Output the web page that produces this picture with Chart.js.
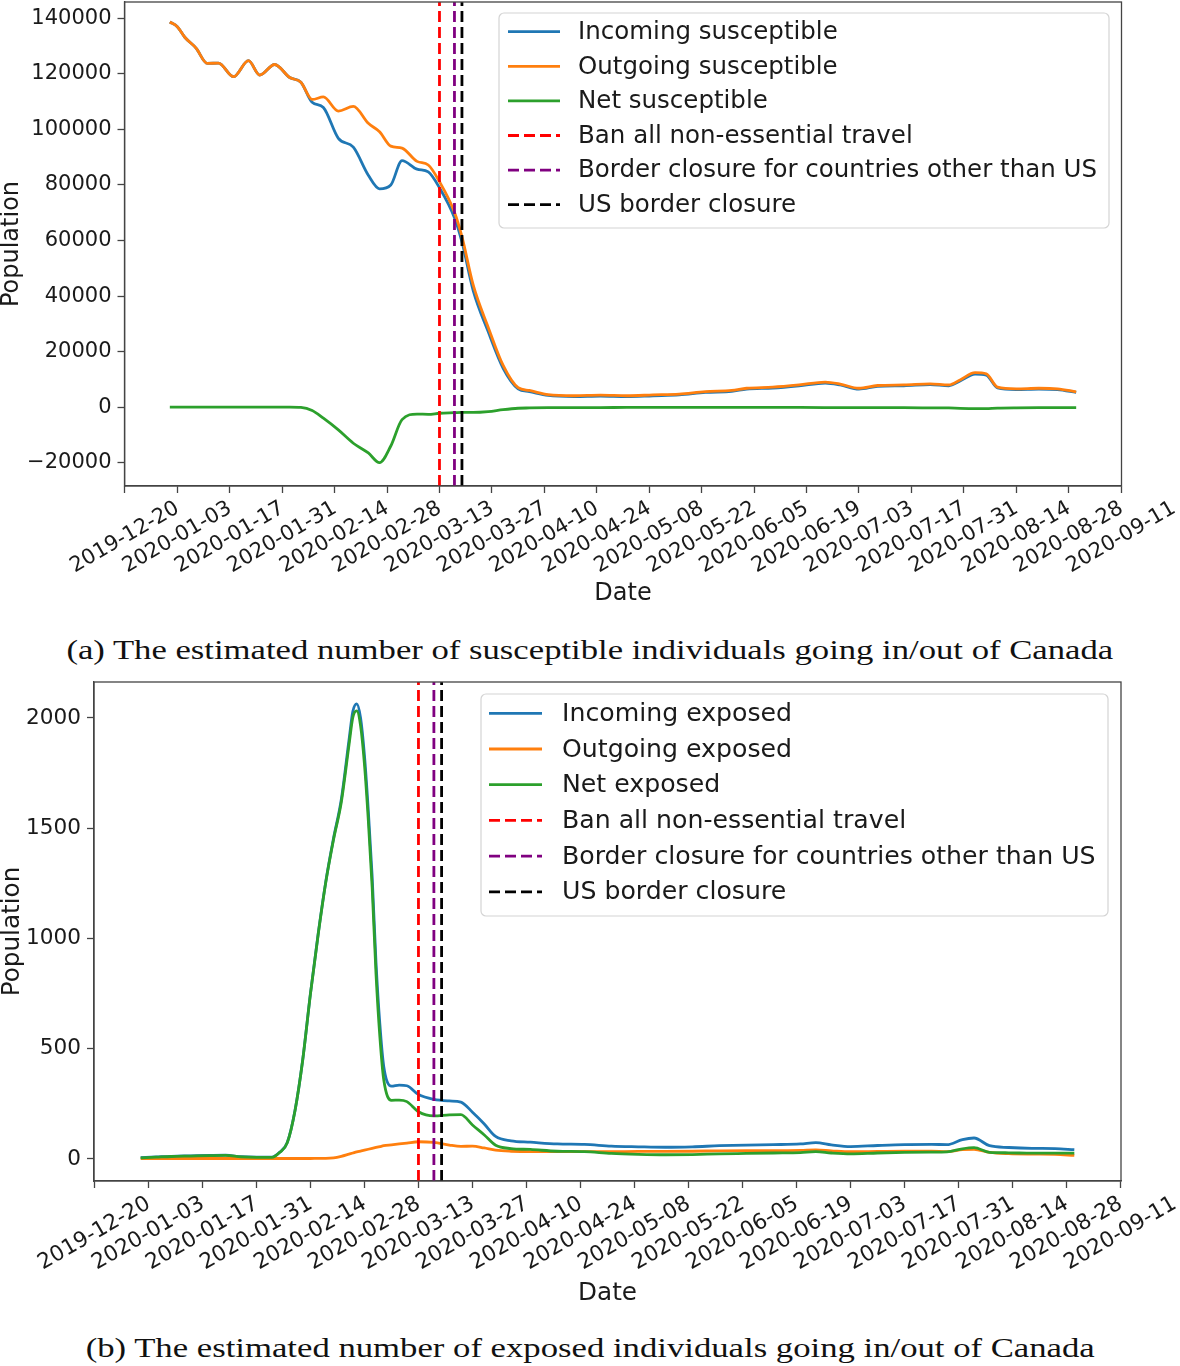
<!DOCTYPE html>
<html>
<head>
<meta charset="utf-8">
<title>Susceptible and exposed travellers, Canada</title>
<script src="https://cdn.jsdelivr.net/npm/chart.js@4.4.1/dist/chart.umd.min.js"></script>
<style>
  html, body { margin: 0; padding: 0; background: #fff; }
  body { position: relative; width: 1180px; height: 1366px; overflow: hidden; }
  canvas { position: absolute; left: 0; }
  #c1 { top: 0; }
  #c2 { top: 670px; }
  .caption { position: absolute; left: 0; width: 1180px; text-align: center; line-height: 32px; white-space: nowrap; }
  .caption span { display: inline-block; font-family: 'Liberation Serif', serif; font-size: 28px; color: #111; }
</style>
</head>
<body>
<canvas id="c1" width="1180" height="610"></canvas>
<div class="caption" style="top:634px"><span data-w="1047">(a) The estimated number of susceptible individuals going in/out of Canada</span></div>
<canvas id="c2" width="1180" height="640"></canvas>
<div class="caption" style="top:1332px"><span data-w="1009">(b) The estimated number of exposed individuals going in/out of Canada</span></div>
<script>
// ---- data ----
const xTickLabels = ['2019-12-20', '2020-01-03', '2020-01-17', '2020-01-31', '2020-02-14', '2020-02-28',
  '2020-03-13', '2020-03-27', '2020-04-10', '2020-04-24', '2020-05-08', '2020-05-22', '2020-06-05',
  '2020-06-19', '2020-07-03', '2020-07-17', '2020-07-31', '2020-08-14', '2020-08-28', '2020-09-11'];

const eventLabels = ['Ban all non-essential travel', 'Border closure for countries other than US', 'US border closure'];
const eventDates = ['2020-03-13', '2020-03-17', '2020-03-19'];

// (a) susceptible
const suscNames = ['Incoming susceptible', 'Outgoing susceptible', 'Net susceptible'];
const suscTicks = [-20000, 0, 20000, 40000, 60000, 80000, 100000, 120000, 140000];
const suscDates = ['2020-01-01', '2020-01-03', '2020-01-05', '2020-01-08', '2020-01-11', '2020-01-14',
  '2020-01-18', '2020-01-22', '2020-01-25', '2020-01-29', '2020-02-02', '2020-02-05', '2020-02-08',
  '2020-02-11', '2020-02-15', '2020-02-19', '2020-02-23', '2020-02-26', '2020-02-29', '2020-03-03',
  '2020-03-07', '2020-03-10', '2020-03-13', '2020-03-17', '2020-03-19', '2020-03-22', '2020-03-26',
  '2020-03-30', '2020-04-03', '2020-04-06', '2020-04-11', '2020-04-18', '2020-04-25', '2020-05-02',
  '2020-05-09', '2020-05-16', '2020-05-23', '2020-05-30', '2020-06-03', '2020-06-10', '2020-06-17',
  '2020-06-24', '2020-06-28', '2020-07-03', '2020-07-08', '2020-07-15', '2020-07-22', '2020-07-27',
  '2020-07-30', '2020-08-03', '2020-08-06', '2020-08-09', '2020-08-14', '2020-08-20', '2020-08-25',
  '2020-08-30'];
const incomingS = [138700, 137000, 133200, 129300, 123800, 123900, 119000, 124800, 119600, 123400,
  118700, 117000, 109800, 107900, 96800, 93600, 83500, 78600, 80000, 88800, 85700, 84700, 79000,
  68200, 59500, 42000, 27200, 14000, 6600, 5600, 4200, 3800, 4000, 3800, 4100, 4400, 5300, 5700,
  6500, 6900, 7700, 8700, 8000, 6500, 7500, 7700, 8100, 7700, 9400, 11900, 11500, 6900, 6300, 6500,
  6300, 5300];
const outgoingS = [138700, 137000, 133200, 129300, 123800, 123900, 119000, 124800, 119600, 123400,
  118700, 117000, 110800, 111700, 106600, 108300, 102200, 99200, 94000, 93300, 88500, 87200, 81200,
  70200, 61400, 44000, 28800, 15000, 7000, 6000, 4500, 4100, 4300, 4100, 4400, 4700, 5600, 6000,
  6800, 7200, 8000, 9000, 8300, 6800, 7800, 8000, 8400, 8000, 9800, 12400, 12000, 7200, 6600, 6800,
  6600, 5500];
const netS = [0, 0, 0, 0, 0, 0, 0, 0, 0, 0, 0, -100, -1200, -4000, -8200, -13000, -16500, -20000,
  -14000, -4500, -2500, -2600, -2200, -2000, -1900, -1900, -1600, -900, -400, -300, -200, -150, -150,
  -100, -100, -100, -100, -100, -100, -100, -100, -150, -200, -200, -200, -200, -250, -300, -450,
  -550, -500, -350, -250, -200, -200, -200];

// (b) exposed
const expNames = ['Incoming exposed', 'Outgoing exposed', 'Net exposed'];
const expTicks = [0, 500, 1000, 1500, 2000];
const expDates = ['2020-01-01', '2020-01-05', '2020-01-09', '2020-01-14', '2020-01-19', '2020-01-23',
  '2020-01-27', '2020-01-31', '2020-02-04', '2020-02-06', '2020-02-08', '2020-02-10', '2020-02-12',
  '2020-02-14', '2020-02-16', '2020-02-18', '2020-02-20', '2020-02-22', '2020-02-24', '2020-02-25',
  '2020-02-26', '2020-02-27', '2020-02-28', '2020-02-29', '2020-03-01', '2020-03-02', '2020-03-03',
  '2020-03-04', '2020-03-06', '2020-03-08', '2020-03-10', '2020-03-13', '2020-03-17', '2020-03-21',
  '2020-03-24', '2020-03-27', '2020-03-30', '2020-04-02', '2020-04-06', '2020-04-11', '2020-04-18',
  '2020-04-25', '2020-05-02', '2020-05-09', '2020-05-16', '2020-05-23', '2020-05-30', '2020-06-06',
  '2020-06-13', '2020-06-20', '2020-06-24', '2020-06-28', '2020-07-03', '2020-07-10', '2020-07-17',
  '2020-07-24', '2020-07-28', '2020-08-01', '2020-08-04', '2020-08-08', '2020-08-13', '2020-08-19',
  '2020-08-25', '2020-08-30'];
const incomingE = [6, 9, 12, 14, 16, 17, 10, 8, 8, 30, 75, 220, 450, 750, 1020, 1260, 1455, 1630,
  1900, 2030, 2064, 2000, 1830, 1580, 1280, 890, 610, 420, 330, 335, 332, 292, 270, 263, 258, 212,
  160, 102, 82, 76, 68, 66, 58, 55, 53, 55, 60, 63, 65, 68, 74, 64, 56, 61, 65, 66, 65, 88, 95, 60,
  52, 48, 47, 42];
const outgoingE = [2, 2, 2, 2, 2, 2, 2, 2, 2, 2, 2, 2, 2, 2, 3, 3, 5, 12, 22, 27, 32, 36, 40, 44, 48,
  52, 56, 60, 64, 68, 72, 78, 75, 63, 57, 58, 50, 40, 35, 33, 33, 33, 33, 34, 34, 35, 37, 38, 38, 39,
  41, 37, 33, 34, 35, 35, 33, 42, 44, 30, 24, 22, 21, 16];
const netE = [5, 8, 11, 13, 15, 16, 9, 7, 7, 29, 74, 219, 449, 748, 1017, 1257, 1450, 1618, 1878,
  2003, 2032, 1964, 1790, 1536, 1232, 838, 554, 360, 266, 267, 260, 214, 195, 200, 201, 154, 110, 62,
  47, 43, 35, 33, 25, 21, 19, 20, 23, 25, 27, 29, 33, 27, 23, 27, 30, 31, 32, 46, 51, 30, 28, 26, 26,
  26];

// ---- styling ----
const lineColors = ['#1f77b4', '#ff7f0e', '#2ca02c'];
const eventColors = ['#ff0000', '#800080', '#000000'];
const FONT = "'DejaVu Sans', sans-serif";
const INK = '#1a1a1a';
const LW = 2.8;
Chart.defaults.font.family = FONT;

const START = Date.UTC(2019, 11, 20);
const dayOf = (s) => (Date.parse(s) - START) / 86400000;
const xTickDays = xTickLabels.map(dayOf);

// box around the plot area (matplotlib spines)
const frame = {
  id: 'frame',
  afterDraw(chart) {
    const a = chart.chartArea, ctx = chart.ctx;
    ctx.save();
    ctx.strokeStyle = '#444';
    ctx.lineWidth = 1.3;
    ctx.strokeRect(a.left, a.top, a.right - a.left, a.bottom - a.top);
    ctx.restore();
  }
};

// matplotlib-like legend box inside the axes
const boxLegend = {
  id: 'boxLegend',
  afterDatasetsDraw(chart, args, o) {
    const ctx = chart.ctx;
    ctx.save();
    ctx.beginPath();
    ctx.roundRect(o.x, o.y, o.w, o.h, 5);
    ctx.fillStyle = 'rgba(255,255,255,0.85)';
    ctx.fill();
    ctx.strokeStyle = '#d4d4d4';
    ctx.lineWidth = 1.2;
    ctx.stroke();
    ctx.font = o.size + 'px ' + FONT;
    ctx.textBaseline = 'middle';
    chart.data.datasets.forEach((ds, i) => {
      const y = o.y + o.first + i * o.row;
      ctx.beginPath();
      ctx.setLineDash(ds.borderDash || []);
      ctx.strokeStyle = ds.borderColor;
      ctx.lineWidth = ds.borderWidth;
      ctx.moveTo(o.hx0, y);
      ctx.lineTo(o.hx1, y);
      ctx.stroke();
      ctx.setLineDash([]);
      ctx.fillStyle = INK;
      ctx.fillText(ds.label, o.tx, y + 1);
    });
    ctx.restore();
  }
};

function labelWidth(size) {
  const c = document.createElement('canvas').getContext('2d');
  c.font = size + 'px ' + FONT;
  return c.measureText(xTickLabels[0]).width;
}

// keep Chart.js from shrinking the plot area to make room for overhanging labels
function noOverhang(axis) {
  axis.paddingLeft = 0;
  axis.paddingRight = 0;
  axis.paddingTop = 0;
  axis.paddingBottom = 0;
}

function buildChart(id, o) {
  const days = o.dates.map(dayOf);
  const datasets = o.series.map((vals, i) => ({
    label: o.names[i],
    data: vals.map((v, j) => ({ x: days[j], y: v })),
    borderColor: lineColors[i],
    borderWidth: LW,
    pointRadius: 0,
    cubicInterpolationMode: 'monotone',
    fill: false,
    order: 10 - i  // later series painted on top, as in matplotlib
  }));
  eventDates.forEach((d, i) => {
    datasets.push({
      label: eventLabels[i],
      data: [{ x: dayOf(d), y: o.yMin }, { x: dayOf(d), y: o.yMax }],
      borderColor: eventColors[i],
      borderWidth: LW,
      borderDash: [11, 5],
      pointRadius: 0,
      fill: false,
      order: 5 - i
    });
  });

  const tickFont = { size: o.tickSize };
  const ax = o.axisSize;

  return new Chart(document.getElementById(id), {
    type: 'line',
    data: { datasets },
    plugins: [frame, boxLegend],
    options: {
      responsive: false,
      animation: false,
      events: [],
      layout: { padding: o.pad },
      plugins: { legend: { display: false }, tooltip: { enabled: false }, boxLegend: o.legend },
      scales: {
        x: {
          type: 'linear',
          min: o.xMin,
          max: o.xMax,
          afterBuildTicks: (axis) => { axis.ticks = xTickDays.map((v) => ({ value: v })); },
          afterFit: (axis) => { axis.height = o.xAxisH; noOverhang(axis); },
          ticks: {
            autoSkip: false, minRotation: 30, maxRotation: 30,
            labelOffset: 0.433 * labelWidth(o.tickSize),
            padding: 3, font: tickFont, color: INK,
            callback: (v, i) => xTickLabels[i]
          },
          grid: { drawOnChartArea: false, tickLength: 7, color: '#444', tickWidth: 1.3 },
          border: { color: '#444', width: 1.3 },
          title: { display: true, text: 'Date', font: { size: ax }, color: INK, padding: 0 }
        },
        y: {
          min: o.yMin,
          max: o.yMax,
          afterBuildTicks: (axis) => { axis.ticks = o.yTicks.map((v) => ({ value: v })); },
          afterFit: (axis) => { axis.width = o.yAxisW; noOverhang(axis); },
          ticks: {
            padding: 6, font: tickFont, color: INK,
            callback: (v) => String(v).replace('-', '\u2212')
          },
          grid: { drawOnChartArea: false, tickLength: 7, color: '#444', tickWidth: 1.3 },
          border: { color: '#444', width: 1.3 },
          title: { display: true, text: 'Population', font: { size: ax, lineHeight: 1 }, color: INK, padding: 0 }
        }
      }
    }
  });
}

buildChart('c1', {
  dates: suscDates, series: [incomingS, outgoingS, netS], names: suscNames,
  yMin: -28400, yMax: 145900, yTicks: suscTicks, xMin: -0.1, xMax: 266.1,
  tickSize: 21, axisSize: 24,
  pad: { top: 2, right: 58.5, bottom: 2, left: 0 }, yAxisW: 124.5, xAxisH: 122,
  legend: { x: 499, y: 13, w: 610, h: 215, first: 18.7, row: 34.6, hx0: 508, hx1: 560, tx: 578, size: 24.5 }
});

buildChart('c2', {
  dates: expDates, series: [incomingE, outgoingE, netE], names: expNames,
  yMin: -100, yMax: 2163, yTicks: expTicks, xMin: -0.1, xMax: 266.1,
  tickSize: 21.6, axisSize: 24.7,
  pad: { top: 12, right: 59, bottom: 2, left: 0 }, yAxisW: 94, xAxisH: 127,
  legend: { x: 481, y: 24, w: 627, h: 222, first: 19.3, row: 35.7, hx0: 489, hx1: 542, tx: 562, size: 25.2 }
});

// stretch the serif captions to the width they have in the figure
document.querySelectorAll('.caption span').forEach((s) => {
  const k = Number(s.dataset.w) / s.getBoundingClientRect().width;
  s.style.transform = 'scaleX(' + k.toFixed(3) + ')';
});
</script>
</body>
</html>
